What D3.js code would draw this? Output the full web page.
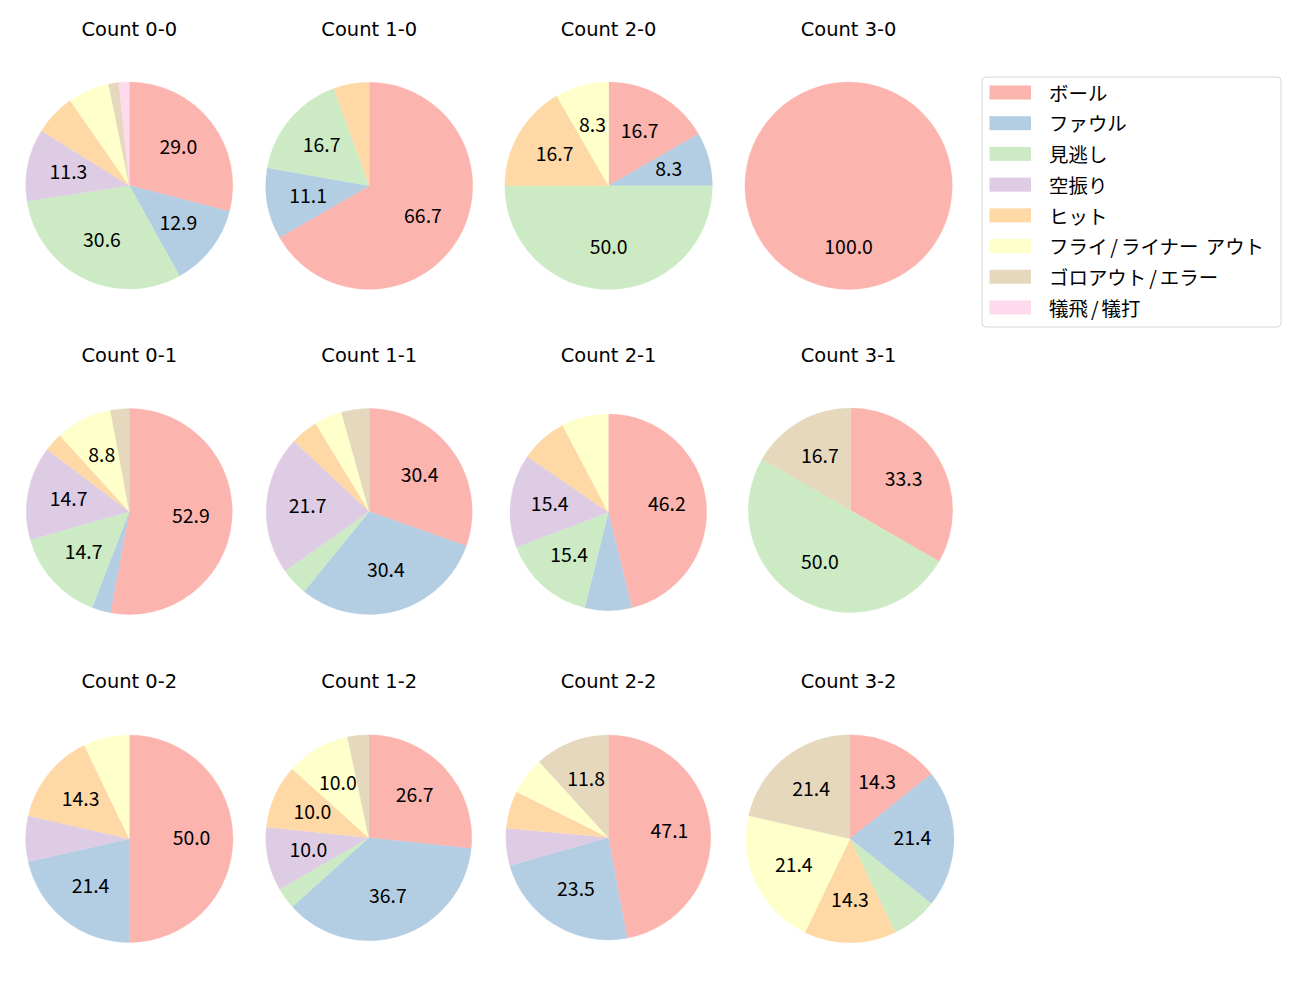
<!DOCTYPE html>
<html>
<head>
<meta charset="utf-8">
<script src="https://cdn.jsdelivr.net/npm/d3@7"></script>
<style>
  html, body { margin: 0; padding: 0; background: #ffffff; }
  svg { display: block; }
  text { font-family: "Noto Sans CJK JP", "Noto Sans", sans-serif; fill: #000; }
  text.title { font-family: "DejaVu Sans", sans-serif; }
</style>
</head>
<body>
<svg id="chart" width="1300" height="1000"></svg>
<script>
// ---- data ----
const counts = ["0-0","1-0","2-0","3-0","0-1","1-1","2-1","3-1","0-2","1-2","2-2","3-2"];
const categories = ["ボール","ファウル","見逃し","空振り","ヒット","フライ/ライナー アウト","ゴロアウト/エラー","犠飛/犠打"];
const ball  = [18,12,2,1,18,7,6,2,7,8,8,2];
const foul  = [8,2,1,0,1,7,1,0,3,11,4,3];
const miss  = [19,3,6,0,5,1,2,3,0,1,0,1];
const swing = [7,0,0,0,5,5,2,0,1,3,1,0];
const hit   = [4,1,2,0,1,1,1,0,2,3,1,2];
const fly   = [4,0,1,0,3,1,1,0,1,3,1,3];
const goro  = [1,0,0,0,1,1,0,1,0,1,2,3];
const sac   = [1,0,0,0,0,0,0,0,0,0,0,0];
const series = [ball, foul, miss, swing, hit, fly, goro, sac];

// ---- layout / style ----
const colors = ["#fbb4ae","#b3cde3","#ccebc5","#decbe4","#fed9a6","#ffffcc","#e5d8bd","#fddaec"];
const colX = [129.3, 369.2, 608.6, 848.6];
const rowY = [185.8, 511.5, 838.3];
const radii = [103.5,103.5,103.8,103.7, 103,103,98.3,102.2, 103.7,103,102.4,104];
const offX  = [0,0,0,0, 0,0,-0.3,1.9, 0,-0.4,-0.3,1.4];
const offY  = [-0.3,0,0,0, 0,0,0.8,-1.2, 0.5,-0.5,-0.8,0.5];
const fontSize = 19.44;
const labelThreshold = 8;

const svg = d3.select("#chart");
const color = d3.scaleOrdinal().domain(categories).range(colors);
const pie = d3.pie().sort(null).value(d => d.value);

counts.forEach((c, i) => {
  const col = i % 4, row = Math.floor(i / 4);
  const cx = colX[col] + offX[i], cy = rowY[row] + offY[i], r = radii[i];
  const vals = categories.map((cat, k) => ({cat, value: series[k][i]}));
  const total = d3.sum(vals, d => d.value);
  const arcs = pie(vals);
  const arc = d3.arc().innerRadius(0).outerRadius(r);
  const g = svg.append("g").attr("transform", `translate(${cx},${cy})`);
  g.selectAll("path").data(arcs.filter(a => a.data.value > 0)).join("path")
    .attr("d", arc)
    .attr("fill", a => color(a.data.cat))
    .attr("stroke", a => color(a.data.cat))
    .attr("stroke-width", 0.3);
  const labelArc = d3.arc().innerRadius(r * 0.6).outerRadius(r * 0.6);
  arcs.forEach(a => {
    const pct = a.data.value / total * 100;
    if (pct >= labelThreshold) {
      const [lx, ly] = labelArc.centroid(a);
      g.append("text")
        .attr("x", lx).attr("y", ly + 6)
        .attr("text-anchor", "middle")
        .style("font-size", fontSize + "px")
        .text(pct.toFixed(1));
    }
  });
  svg.append("text")
    .attr("class", "title")
    .attr("x", colX[col]).attr("y", rowY[row] - 150)
    .attr("text-anchor", "middle")
    .style("font-size", fontSize + "px")
    .text("Count " + c);
});

// ---- legend ----
const lg = svg.append("g");
lg.append("rect")
  .attr("x", 982).attr("y", 77).attr("width", 299).attr("height", 250)
  .attr("rx", 4).attr("ry", 4)
  .attr("fill", "#ffffff").attr("fill-opacity", 0.8)
  .attr("stroke", "#d6d6d6").attr("stroke-width", 1);
categories.forEach((cat, k) => {
  const y = 92.5 + k * 30.71;
  lg.append("rect")
    .attr("x", 989.5).attr("y", y - 7).attr("width", 41.5).attr("height", 14)
    .attr("fill", color(cat));
  const t = lg.append("text")
    .attr("x", 1049).attr("y", y - 0.8)
    .attr("dominant-baseline", "central")
    .style("font-size", fontSize + "px");
  // split so that "/" and spaces get the spacing of the original font
  const parts = cat.split(/([\/ ])/).filter(p => p.length);
  parts.forEach((p, j) => {
    const prev = j > 0 ? parts[j - 1] : null;
    const ts = t.append("tspan").text(p === " " ? "\u00a0" : p);
    if (p === "/") ts.attr("dx", 3);
    else if (p === " ") ts.attr("dx", 0);
    else if (prev === "/") ts.attr("dx", 3);
    else if (prev === " ") ts.attr("dx", 3);
  });
});
</script>
</body>
</html>
